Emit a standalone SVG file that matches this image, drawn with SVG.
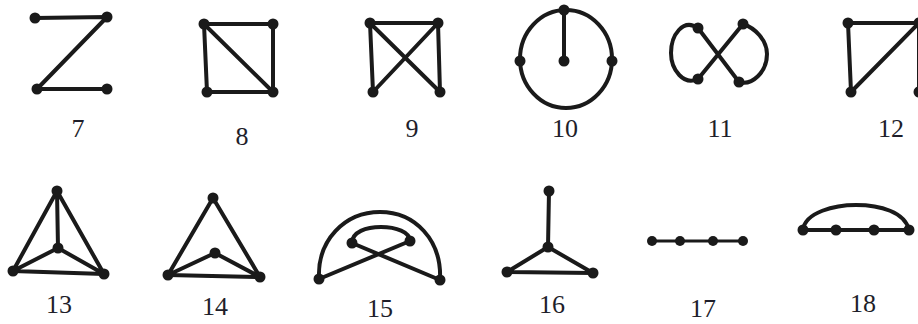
<svg xmlns="http://www.w3.org/2000/svg" width="918" height="324" viewBox="0 0 918 324">
<style>
.e{stroke:#1a1a1a;stroke-width:4;fill:none;stroke-linecap:round;stroke-linejoin:round}
.t{stroke-width:3}
.n{fill:#1a1a1a}
.l{font-family:"Liberation Serif","Times New Roman",serif;font-size:26px;fill:#1e1e2a;text-anchor:middle}
</style>
<rect width="918" height="324" fill="#fff"/>
<g id="connectors">
<path class="e" d="M35,18 L107,17 L37,89 L107,89"/>
<path class="e" d="M204,24 L273,24 L273,92 L207,92 Z M204,24 L273,92"/>
<path class="e" d="M373,92 L370,23 L438,23 L440,92 M370,23 L440,92 M438,23 L373,92"/>
<ellipse class="e" cx="566" cy="59" rx="46" ry="49"/>
<path class="e" d="M564,10 L564,61"/>
<path class="e" d="M698,28 L739,82 M743,24 L698,79"/>
<path class="e" d="M698,28 C683,18 671,35 671,53 C671,70 684,86 698,79"/>
<path class="e" d="M743,24 C755,28 767,40 767,54 C767,72 752,86 739,82"/>
<path class="e" d="M851,92 L848,23 L919,23 L919,92 M851,92 L919,23"/>
<path class="e" d="M57,191 L13,271 L104,274 Z M57,191 L58,248 M13,271 L58,248 L104,274"/>
<path class="e" d="M213,198 L168,275 L260,277 Z M168,275 L215,253 L260,277"/>
<path class="e" d="M319,279 C317,240 345,212 380,212 C415,212 442,240 440,280"/>
<path class="e" d="M352,243 C352,232 366,227 381,227 C396,227 410,232 410,241"/>
<path class="e" d="M319,279 L410,241 M352,243 L440,280"/>
<path class="e" d="M549,191 L548,247 M507,272 L548,247 L593,273 Z"/>
<path class="e t" d="M652,241 L743,241"/>
<path class="e" d="M803,230 L909,230"/>
<path class="e" d="M803,230 C805,212 835,205 856,205 C880,205 905,212 909,230"/>
</g>
<g id="g7"><circle class="n" cx="35" cy="18" r="5.5"/><circle class="n" cx="107" cy="17" r="5.5"/><circle class="n" cx="37" cy="89" r="5.5"/><circle class="n" cx="107" cy="89" r="5.5"/><text class="l" x="78" y="137">7</text></g>
<g id="g8"><circle class="n" cx="204" cy="24" r="5.5"/><circle class="n" cx="273" cy="24" r="5.5"/><circle class="n" cx="207" cy="92" r="5.5"/><circle class="n" cx="273" cy="92" r="5.5"/><text class="l" x="242" y="145">8</text></g>
<g id="g9"><circle class="n" cx="370" cy="23" r="5.5"/><circle class="n" cx="438" cy="23" r="5.5"/><circle class="n" cx="373" cy="92" r="5.5"/><circle class="n" cx="440" cy="92" r="5.5"/><text class="l" x="412" y="137">9</text></g>
<g id="g10"><circle class="n" cx="564" cy="10" r="5.5"/><circle class="n" cx="520" cy="61" r="5.5"/><circle class="n" cx="612" cy="61" r="5.5"/><circle class="n" cx="564" cy="61" r="5.5"/><text class="l" x="565" y="137">10</text></g>
<g id="g11"><circle class="n" cx="698" cy="28" r="5.5"/><circle class="n" cx="743" cy="24" r="5.5"/><circle class="n" cx="698" cy="79" r="5.5"/><circle class="n" cx="739" cy="82" r="5.5"/><text class="l" x="720" y="137">11</text></g>
<g id="g12"><circle class="n" cx="848" cy="23" r="5.5"/><circle class="n" cx="919" cy="23" r="5.5"/><circle class="n" cx="851" cy="92" r="5.5"/><circle class="n" cx="919" cy="92" r="5.5"/><text class="l" x="891" y="137">12</text></g>
<g id="g13"><circle class="n" cx="57" cy="191" r="5.5"/><circle class="n" cx="58" cy="248" r="5.5"/><circle class="n" cx="13" cy="271" r="5.5"/><circle class="n" cx="104" cy="274" r="5.5"/><text class="l" x="59" y="313">13</text></g>
<g id="g14"><circle class="n" cx="213" cy="198" r="5.5"/><circle class="n" cx="215" cy="253" r="5.5"/><circle class="n" cx="168" cy="275" r="5.5"/><circle class="n" cx="260" cy="277" r="5.5"/><text class="l" x="215" y="315">14</text></g>
<g id="g15"><circle class="n" cx="319" cy="279" r="5.5"/><circle class="n" cx="440" cy="280" r="5.5"/><circle class="n" cx="352" cy="243" r="5.5"/><circle class="n" cx="410" cy="241" r="5.5"/><text class="l" x="380" y="317">15</text></g>
<g id="g16"><circle class="n" cx="549" cy="191" r="5.5"/><circle class="n" cx="548" cy="247" r="5.5"/><circle class="n" cx="507" cy="272" r="5.5"/><circle class="n" cx="593" cy="273" r="5.5"/><text class="l" x="552" y="313">16</text></g>
<g id="g17"><circle class="n" cx="652" cy="241" r="5"/><circle class="n" cx="680" cy="241" r="5"/><circle class="n" cx="713" cy="241" r="5"/><circle class="n" cx="743" cy="241" r="5"/><text class="l" x="703" y="317">17</text></g>
<g id="g18"><circle class="n" cx="803" cy="230" r="5.5"/><circle class="n" cx="836" cy="230" r="5.5"/><circle class="n" cx="874" cy="230" r="5.5"/><circle class="n" cx="909" cy="230" r="5.5"/><text class="l" x="863" y="312">18</text></g>
</svg>
